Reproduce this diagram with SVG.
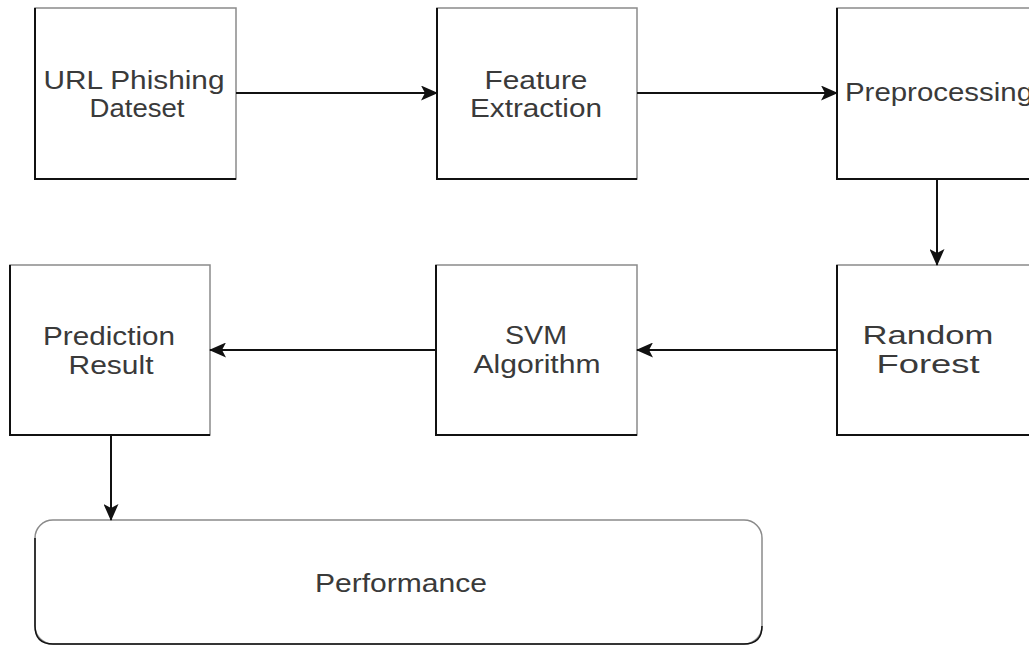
<svg xmlns="http://www.w3.org/2000/svg" width="1029" height="647" viewBox="0 0 1029 647">
<defs>
<style>
.box{fill:#fff;stroke:#8a8a8a;stroke-width:1.5}
.edge{fill:none;stroke:#111;stroke-width:2}
.lbl{font-family:"Liberation Sans",Arial,sans-serif;font-size:25px;fill:#3a3a3a;text-anchor:middle}
.conn{fill:none;stroke:#111;stroke-width:2}
</style>
<marker id="ah" viewBox="0 0 17 15" refX="16" refY="7.5" markerWidth="17" markerHeight="15" markerUnits="userSpaceOnUse" orient="auto">
<path d="M0,0 L17,7.5 L0,15 L4,7.5 Z" fill="#111"/>
</marker>
</defs>
<rect width="1029" height="647" fill="#fff"/>
<g id="url-dataset">
<rect class="box" x="35" y="8" width="201" height="171"/>
<path class="edge" d="M35,8 V179 H236"/>
<text class="lbl" x="134" y="89" textLength="181" lengthAdjust="spacingAndGlyphs">URL Phishing</text>
<text class="lbl" x="137" y="117" textLength="95" lengthAdjust="spacingAndGlyphs">Dateset</text>
</g>
<g id="feature-extraction">
<rect class="box" x="437" y="8" width="200" height="171"/>
<path class="edge" d="M437,8 V179 H637"/>
<text class="lbl" x="536" y="89" textLength="103" lengthAdjust="spacingAndGlyphs">Feature</text>
<text class="lbl" x="536" y="117" textLength="132" lengthAdjust="spacingAndGlyphs">Extraction</text>
</g>
<g id="preprocessing">
<rect class="box" x="837" y="8" width="200" height="171"/>
<path class="edge" d="M837,8 V179 H1037"/>
<text class="lbl" x="845" y="101" style="text-anchor:start" textLength="188" lengthAdjust="spacingAndGlyphs">Preprocessing</text>
</g>
<g id="random-forest">
<rect class="box" x="837" y="265" width="200" height="170"/>
<path class="edge" d="M837,265 V435 H1037"/>
<text class="lbl" x="928" y="344" textLength="131" lengthAdjust="spacingAndGlyphs">Random</text>
<text class="lbl" x="928" y="373" textLength="103" lengthAdjust="spacingAndGlyphs">Forest</text>
</g>
<g id="svm-algorithm">
<rect class="box" x="436" y="265" width="201" height="170"/>
<path class="edge" d="M436,265 V435 H637"/>
<text class="lbl" x="536" y="344" textLength="62" lengthAdjust="spacingAndGlyphs">SVM</text>
<text class="lbl" x="537" y="373" textLength="127" lengthAdjust="spacingAndGlyphs">Algorithm</text>
</g>
<g id="prediction-result">
<rect class="box" x="10" y="265" width="200" height="170"/>
<path class="edge" d="M10,265 V435 H210"/>
<text class="lbl" x="109" y="345" textLength="132" lengthAdjust="spacingAndGlyphs">Prediction</text>
<text class="lbl" x="111" y="374" textLength="85" lengthAdjust="spacingAndGlyphs">Result</text>
</g>
<g id="performance">
<rect class="box" x="35" y="520" width="727" height="124" rx="18" ry="18"/>
<path class="edge" style="stroke-width:1.5" d="M35,538 V626 Q35,644 53,644 H744 Q762,644 762,626"/>
<text class="lbl" x="401" y="592" textLength="172" lengthAdjust="spacingAndGlyphs">Performance</text>
</g>
<g id="connectors">
<path class="conn" d="M236,93 H437" marker-end="url(#ah)"/>
<path class="conn" d="M637,93 H837" marker-end="url(#ah)"/>
<path class="conn" d="M937,179 V265" marker-end="url(#ah)"/>
<path class="conn" d="M837,350 H637" marker-end="url(#ah)"/>
<path class="conn" d="M436,350 H210" marker-end="url(#ah)"/>
<path class="conn" d="M111,435 V520" marker-end="url(#ah)"/>
</g>
</svg>
